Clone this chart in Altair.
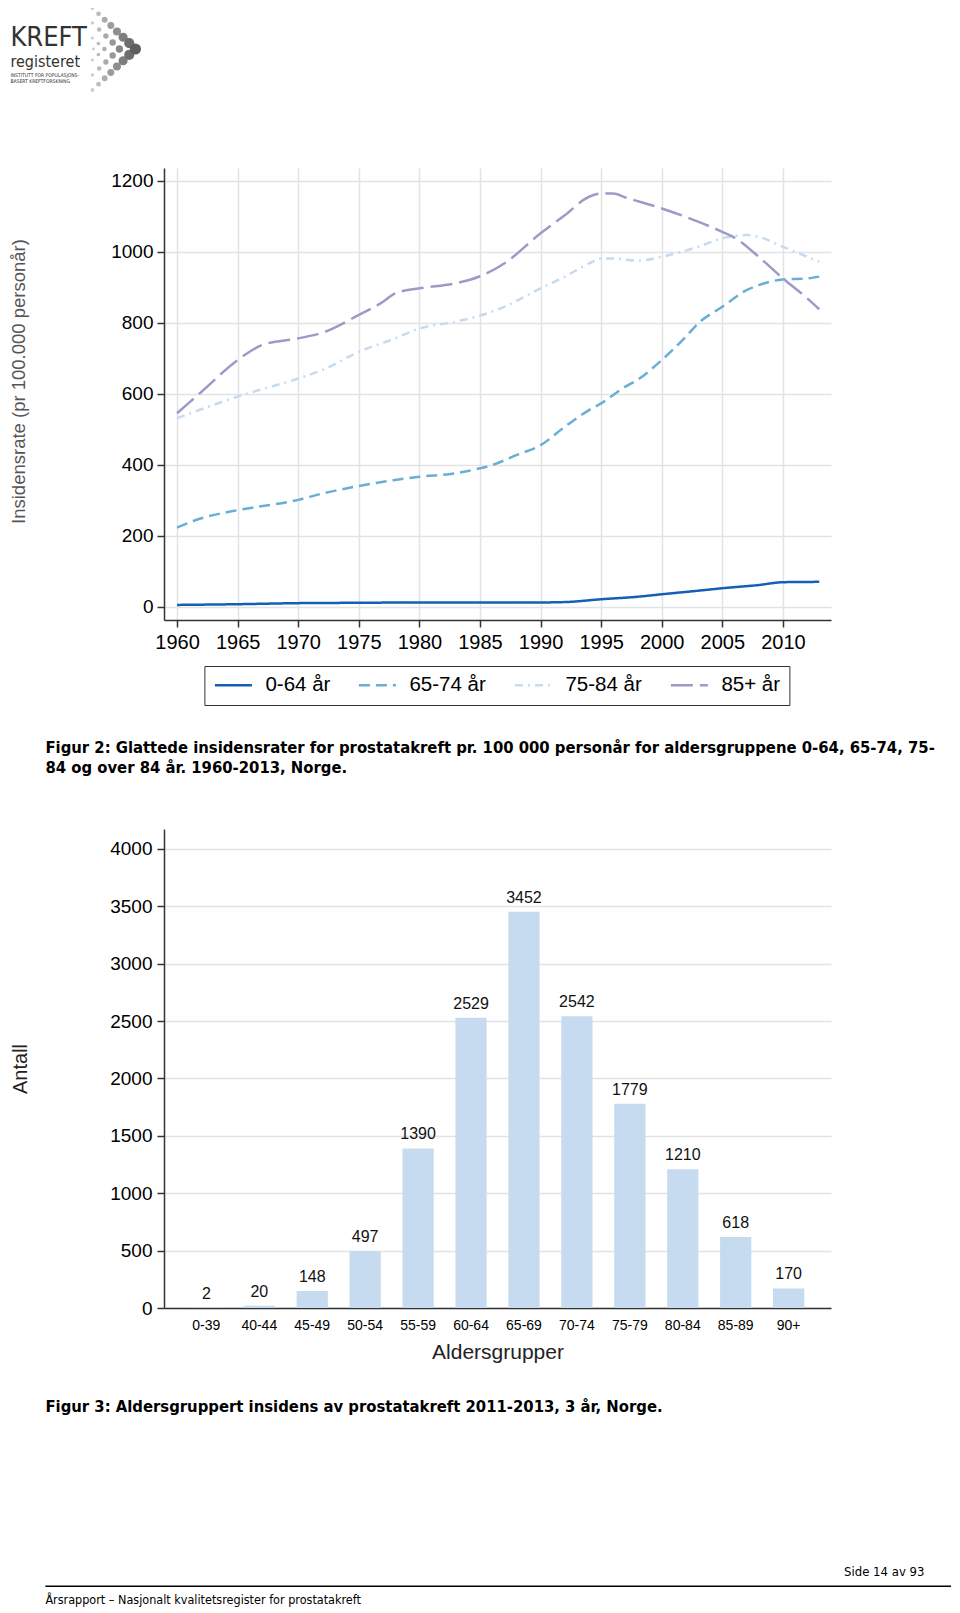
import altair as alt
import pandas as pd

# ---------------- data: Figur 2 (smoothed incidence rates) ----------------
groups = ["0-64 år", "65-74 år", "75-84 år", "85+ år"]
colors = ["#1560b3", "#6aaed6", "#c6dbef", "#9e9ac8"]
dashes = [[1, 0], [11, 6], [8, 5, 2, 5], [22, 7]]

years_0_64 = [1960, 1965, 1970, 1975, 1980, 1985, 1990, 1992, 1995, 1998, 2000, 2003, 2005, 2008, 2010, 2013]
rate_0_64 = [5, 7, 10, 11, 12, 12, 12, 13, 21, 28, 35, 45, 52, 61, 69, 70]

years_65_74 = [1960, 1962, 1965, 1970, 1972, 1975, 1978, 1980, 1983, 1985, 1986, 1988, 1990, 1992, 1994,
               1995, 1997, 1998, 2000, 2002, 2003, 2005, 2007, 2008, 2010, 2012, 2013]
rate_65_74 = [223, 249, 272, 301, 319, 340, 357, 366, 376, 390, 399, 427, 455, 507, 554,
              573, 620, 639, 695, 761, 798, 845, 892, 906, 922, 925, 930]

years_75_84 = [1960, 1965, 1970, 1972, 1975, 1978, 1980, 1983, 1985, 1987, 1990, 1992, 1994, 1995,
               1996, 1998, 2000, 2003, 2005, 2007, 2008, 2010, 2012, 2013]
rate_75_84 = [531, 592, 643, 667, 718, 756, 784, 803, 820, 845, 897, 930, 967, 981,
              981, 975, 986, 1014, 1038, 1047, 1042, 1014, 986, 972]

years_85 = [1960, 1962, 1965, 1967, 1970, 1972, 1975, 1977, 1978, 1980, 1983, 1985, 1987, 1990,
            1992, 1994, 1995, 1996, 1997, 2000, 2003, 2005, 2006, 2008, 2010, 2012, 2013]
rate_85 = [545, 605, 695, 737, 756, 772, 822, 859, 883, 897, 911, 931, 967, 1052,
           1103, 1155, 1164, 1164, 1153, 1122, 1085, 1056, 1040, 986, 925, 869, 838]

x_ticks_1 = [1960, 1965, 1970, 1975, 1980, 1985, 1990, 1995, 2000, 2005, 2010]
y_ticks_1 = [0, 200, 400, 600, 800, 1000, 1200]

# ---------------- data: Figur 3 (age-grouped counts) ----------------
age_groups = ["0-39", "40-44", "45-49", "50-54", "55-59", "60-64",
              "65-69", "70-74", "75-79", "80-84", "85-89", "90+"]
counts = [2, 20, 148, 497, 1390, 2529, 3452, 2542, 1779, 1210, 618, 170]
y_ticks_2 = [0, 500, 1000, 1500, 2000, 2500, 3000, 3500, 4000]

# ---------------- texts ----------------
y_title_1 = "Insidensrate (pr 100.000 personår)"
cap2_l1 = "Figur 2: Glattede insidensrater for prostatakreft pr. 100 000 personår for aldersgruppene 0-64, 65-74, 75-"
cap2_l2 = "84 og over 84 år. 1960-2013, Norge."
cap3 = "Figur 3: Aldersgruppert insidens av prostatakreft 2011-2013, 3 år, Norge."
footer_right = "Side 14 av 93"
footer_left = "Årsrapport – Nasjonalt kvalitetsregister for prostatakreft"

FONT = "Liberation Sans, Arial, sans-serif"
COND = "DejaVu Sans Condensed, Liberation Sans, sans-serif"

rows = []
for g, ys, vs in [(groups[0], years_0_64, rate_0_64), (groups[1], years_65_74, rate_65_74),
                  (groups[2], years_75_84, rate_75_84), (groups[3], years_85, rate_85)]:
    for y, v in zip(ys, vs):
        rows.append({"group": g, "year": y, "rate": v})
df_lines = pd.DataFrame(rows)

df_bars = pd.DataFrame({"age": age_groups, "n": counts})


def txt(s, x, y, **kw):
    return alt.Chart(pd.DataFrame({"t": [s]})).mark_text(**kw).encode(
        text="t:N", x=alt.value(x), y=alt.value(y))


# ---------------- logo decoration (page top-left) ----------------
balls = []
levels = [(135, 3, 8, 1.0), (119, 18, 5, 0.85), (104, 33, 3, 0.7), (93, 44, 1, 0.6)]
for tip_x, top_y, n, k in levels:
    for i in range(n):
        f = i / (n - 1) if n > 1 else 1.0
        bx = 92 + (tip_x - 92) * f
        by_top = top_y + (44 - top_y) * f
        r = (1.3 + 3.7 * (bx - 92) / 43) * k + 0.6
        shade = int(205 - 110 * (bx - 92) / 43)
        col = "#%02x%02x%02x" % (shade, shade, shade)
        for by in ({by_top, 88 - by_top}):
            balls.append({"px": bx - 163.6, "py": by + 5 - 168, "s": (2 * r) ** 2, "c": col})
df_balls = pd.DataFrame(balls)

logo_balls = alt.Chart(df_balls).mark_circle(opacity=1).encode(
    x=alt.X("px:Q", scale=None, axis=None),
    y=alt.Y("py:Q", scale=None, axis=None),
    size=alt.Size("s:Q", scale=None, legend=None),
    color=alt.Color("c:N", scale=None, legend=None),
)
logo_txt = (
    txt("KREFT", -153.6, -122, align="left", baseline="alphabetic", fontSize=27, font=COND, color="#333")
    + txt("registeret", -153.6, -101, align="left", baseline="alphabetic", fontSize=16, font=COND, color="#333")
    + txt("INSTITUTT FOR POPULASJONS-", -153.6, -91, align="left", baseline="alphabetic", fontSize=5, font=COND, color="#333")
    + txt("BASERT KREFTFORSKNING", -153.6, -85, align="left", baseline="alphabetic", fontSize=5, font=COND, color="#333")
)

# ---------------- Figur 2 ----------------
leg = alt.Legend(orient="none", legendX=40.4, legendY=498, direction="horizontal", title=None,
                 labelFontSize=20.5, labelColor="black", labelFont=FONT, symbolType="stroke",
                 symbolSize=1369, symbolStrokeWidth=2.5, strokeColor="#333", fillColor="white",
                 padding=9, columnPadding=27, labelOffset=12, clipHeight=20)

lines = alt.Chart(df_lines).mark_line(strokeWidth=2.5, interpolate="monotone").encode(
    x=alt.X("year:Q", scale=alt.Scale(domain=[1958.92, 2013.97], nice=False, zero=False),
            axis=alt.Axis(values=x_ticks_1, format="d", title=None, labelFontSize=20, labelPadding=5,
                          tickSize=7, grid=True)),
    y=alt.Y("rate:Q", scale=alt.Scale(domain=[-37.5, 1236], nice=False, zero=False),
            axis=alt.Axis(values=y_ticks_1, format="d", title=y_title_1, titleFontSize=18.5, titleColor="#555",
                          titleFontWeight="normal", titleX=-135.5, titleY=213, labelFontSize=19, labelPadding=4,
                          tickSize=7, grid=True)),
    color=alt.Color("group:N", scale=alt.Scale(domain=groups, range=colors), legend=leg),
    strokeDash=alt.StrokeDash("group:N", scale=alt.Scale(domain=groups, range=dashes), legend=leg),
)

cap2a = txt(cap2_l1, -118.6, 580, align="left", baseline="middle", fontSize=16.5, fontWeight="bold", font=COND)
cap2b = txt(cap2_l2, -118.6, 600, align="left", baseline="middle", fontSize=16.5, fontWeight="bold", font=COND)

chart1 = alt.layer(lines, logo_balls, logo_txt, cap2a, cap2b).resolve_scale(
    x="independent", y="independent").properties(width=667, height=452)

# ---------------- Figur 3 ----------------
base = alt.Chart(df_bars).encode(
    x=alt.X("age:N", sort=age_groups, scale=alt.Scale(paddingInner=0.41, paddingOuter=0.505),
            axis=alt.Axis(title="Aldersgrupper", labelAngle=0, labelFontSize=14, labelPadding=10, ticks=False,
                          titleFontSize=21, titleFontWeight="normal", titlePadding=9, grid=False,
                          titleColor="#222")),
    y=alt.Y("n:Q", scale=alt.Scale(domain=[0, 4174], nice=False, zero=True),
            axis=alt.Axis(values=y_ticks_2, format="d", title="Antall", titleFontSize=20, titleFontWeight="normal",
                          titleX=-134, titleColor="#222", labelFontSize=19, labelPadding=5,
                          tickSize=7, grid=True)),
)
bars = base.mark_bar(color="#c6dbef")
vals = base.mark_text(dy=-9, baseline="alphabetic", fontSize=16, color="#111").encode(text="n:Q")

cap3_t = txt(cap3, -118.6, 578.3, align="left", baseline="middle", fontSize=16.5, fontWeight="bold", font=COND)
side_t = txt(footer_right, 760.4, 743.3, align="right", baseline="middle", fontSize=13, font=COND)
rule_t = alt.Chart(pd.DataFrame({"a": [0]})).mark_rule(color="black", strokeWidth=1.5).encode(
    x=alt.value(-118.6), x2=alt.value(787), y=alt.value(757.3))
foot_t = txt(footer_left, -118.6, 771.3, align="left", baseline="middle", fontSize=12.5, font=COND)

chart2 = alt.layer(bars, vals, cap3_t, side_t, rule_t, foot_t).properties(width=667, height=479)

chart = alt.vconcat(chart1, chart2, spacing=52).properties(
    padding={"left": 1, "top": -2, "right": 0, "bottom": 0}
).configure(
    font=FONT
).configure_view(stroke=None).configure_axis(
    domainColor="#333", domainWidth=1.5, tickColor="#333", tickWidth=1.5,
    gridColor="#e3e3e3", gridWidth=1.5, labelColor="black", labelFont=FONT, titleFont=FONT
)

chart.save("out.html", embed_options={"renderer": "svg", "actions": False})
